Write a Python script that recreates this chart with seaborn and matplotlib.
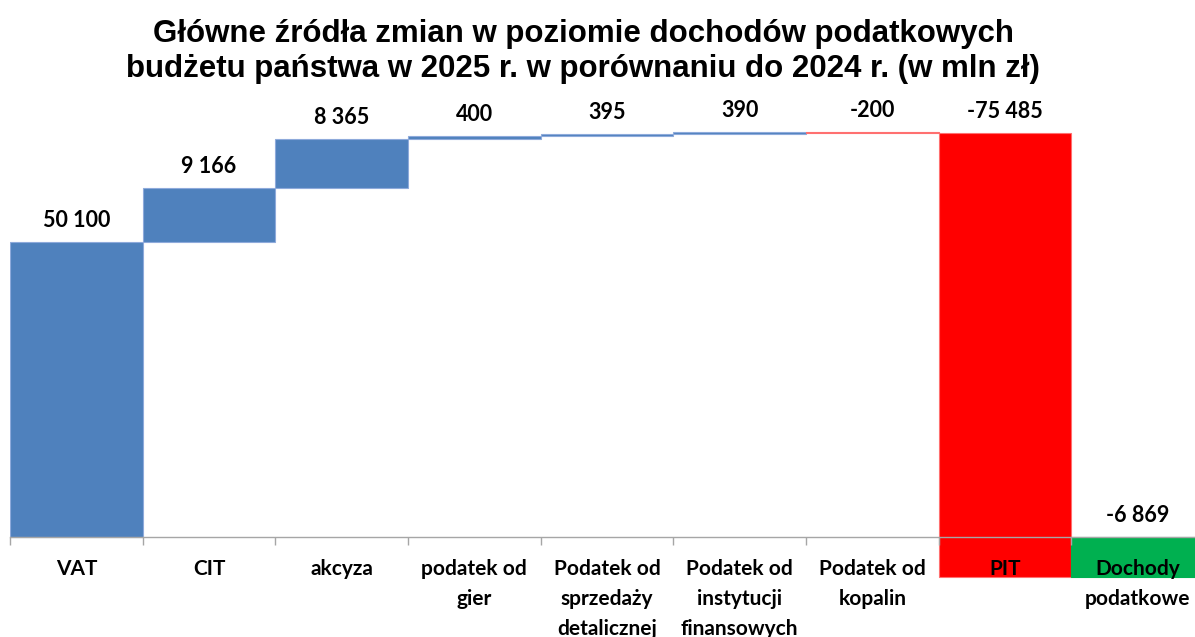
import numpy as np
import pandas as pd
import matplotlib
matplotlib.use("Agg")
import matplotlib.pyplot as plt
import seaborn as sns

# Data
categories = ["VAT", "CIT", "akcyza", "podatek od\ngier", "Podatek od\nsprzedaży\ndetalicznej",
              "Podatek od\ninstytucji\nfinansowych", "Podatek od\nkopalin", "PIT", "Dochody\npodatkowe"]
changes = [50100, 9166, 8365, 400, 395, 390, -200, -75485]
total = -6869
title = ("Główne źródła zmian w poziomie dochodów podatkowych\n"
         "budżetu państwa w 2025 r. w porównaniu do 2024 r. (w mln zł)")

BLUE = "#4F81BD"
RED = "#FF0000"
GREEN = "#00B050"

# waterfall: start of each step, last bar is the total from zero
starts = list(np.concatenate([[0], np.cumsum(changes)[:-1]]))
bottoms = starts + [0]
heights = changes + [total]
colors = [BLUE if v > 0 else RED for v in changes] + [GREEN]
edges = ["#8EAADB" if v > 0 else "#FF7070" for v in changes] + [GREEN]

df = pd.DataFrame({"kategoria": categories, "zmiana": heights})

sns.set_style("white")
plt.rcParams["text.color"] = "black"
plt.rcParams["xtick.color"] = "black"
fig = plt.figure(figsize=(11.95, 6.37), dpi=100)
ax = fig.add_axes([10 / 1195, 0, 1194 / 1195, 537 / 637])

sns.barplot(data=df, x="kategoria", y="zmiana", bottom=bottoms, width=1.0,
            color=BLUE, errorbar=None, ax=ax, zorder=1)
for patch, fc, ec in zip(ax.patches, colors, edges):
    patch.set_facecolor(fc)
    patch.set_edgecolor(ec)
    patch.set_linewidth(0.8)

ax.set_xlim(-0.5, len(categories) - 0.5)
ax.set_ylim(-16983, 74216)
ax.set_axisbelow(False)

for side in ["top", "right", "left"]:
    ax.spines[side].set_visible(False)
ax.spines["bottom"].set_position(("data", 0))
ax.spines["bottom"].set_color("#A6A6A6")
ax.spines["bottom"].set_linewidth(1)
ax.set_yticks([])
ax.set_xlabel("")
ax.set_ylabel("")

ax.set_xticks(np.arange(len(categories)))
ax.set_xticklabels(categories, fontsize=15, fontweight="bold", color="black",
                   family=["Lato", "DejaVu Sans"], linespacing=1.62, va="top")
ax.set_xticks(np.arange(len(categories) + 1) - 0.5, minor=True)
ax.tick_params(axis="x", which="major", length=0, pad=16)
ax.tick_params(axis="x", which="minor", length=6, color="#A6A6A6", width=1,
               direction="out", bottom=True)

# value labels
for i, (b, h) in enumerate(zip(bottoms, heights)):
    top = max(b, b + h)
    txt = f"{h:,}".replace(",", " ")
    ax.annotate(txt, (i, top), xytext=(0, 8), textcoords="offset points",
                ha="center", va="bottom", fontsize=15.5, fontweight="bold",
                family=["Lato", "DejaVu Sans"], color="black")

fig.text(0.488, 0.970, title, ha="center", va="top", fontsize=22.5, fontweight="bold",
         family=["Liberation Sans Narrow", "Liberation Sans", "DejaVu Sans"],
         linespacing=1.2, color="black")

fig.savefig("out.png", dpi=100)
